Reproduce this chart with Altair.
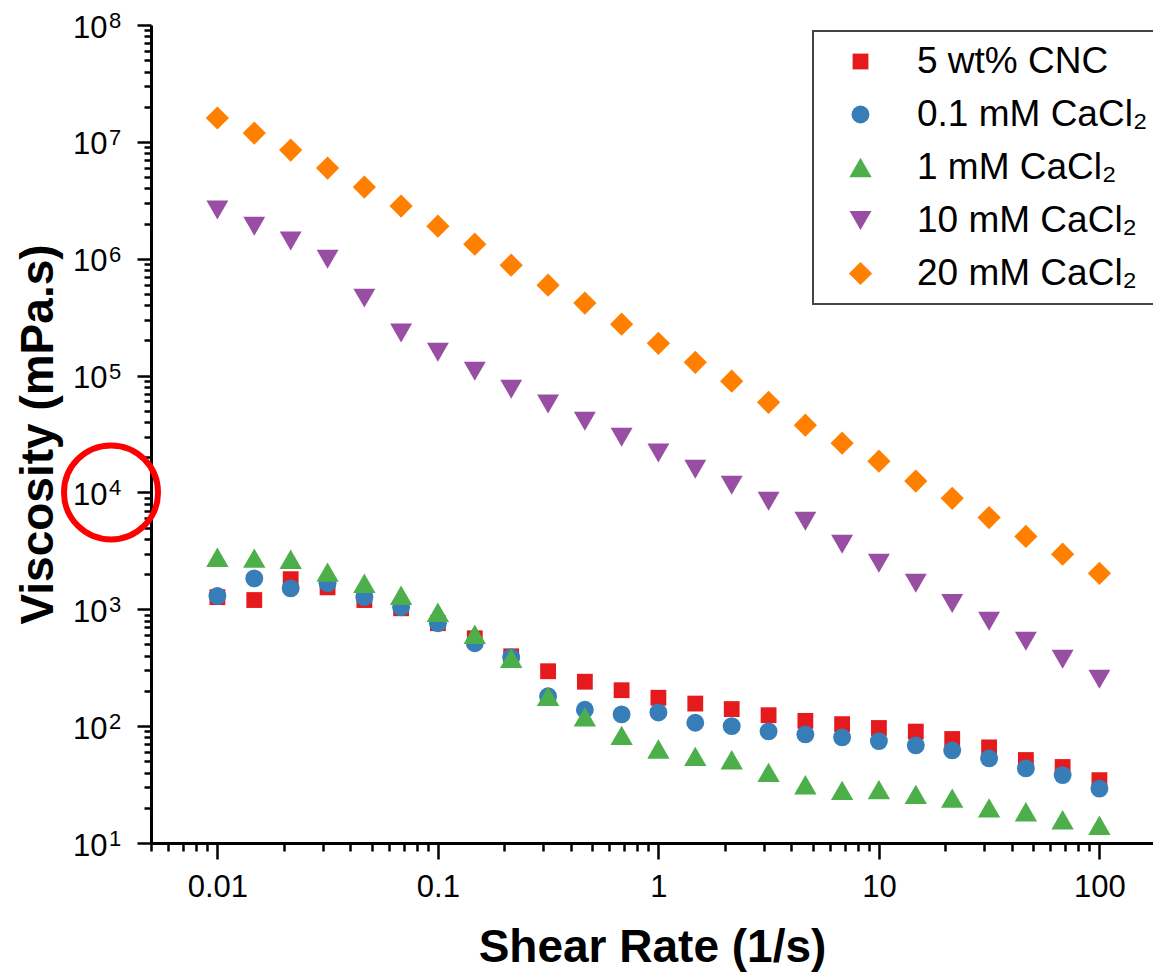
import altair as alt
import pandas as pd

# Shear rates of the flow sweep (5 points per decade)
shear_rate = [0.01, 0.0147, 0.0215, 0.0316, 0.0464, 0.0681, 0.1, 0.147, 0.215,
              0.316, 0.464, 0.681, 1, 1.47, 2.15, 3.16, 4.64, 6.81, 10, 14.7,
              21.5, 31.6, 46.4, 68.1, 100]

# Viscosity (mPa.s) per formulation
cnc_5wt = [1270, 1200, 1810, 1540, 1200, 1020, 760, 565, 396, 295, 240, 203,
           175, 156, 140, 124, 111, 104, 96.4, 89.8, 77.6, 65.8, 51.3, 44.7, 34.5]
cacl2_01mm = [1300, 1840, 1510, 1670, 1270, 1040, 760, 512, 388, 180, 138, 126,
              131, 107, 100, 90.3, 85.1, 80.2, 74.5, 68.5, 62.1, 53.0, 43.5, 38.1, 29.2]
cacl2_1mm = [2790, 2740, 2680, 2080, 1670, 1320, 943, 611, 381, 180, 120, 83.4,
             63.7, 55.1, 51.6, 40.2, 31.5, 28.2, 28.6, 26.1, 24.2, 20.0, 18.5, 15.8, 14.2]
cacl2_10mm = [2.61e6, 1.90e6, 1.42e6, 9.9e5, 4.6e5, 2.31e5, 1.58e5, 1.09e5, 7.65e4,
              5.7e4, 4.07e4, 2.97e4, 2.17e4, 1.58e4, 1.15e4, 8.4e3, 5.67e3, 3.6e3,
              2.48e3, 1.67e3, 1.12e3, 789, 532, 373, 252]
cacl2_20mm = [1.6e7, 1.19e7, 8.5e6, 5.97e6, 4.1e6, 2.82e6, 1.9e6, 1.33e6, 8.8e5,
              5.94e5, 4.17e5, 2.75e5, 1.89e5, 1.30e5, 8.96e4, 5.9e4, 3.76e4, 2.64e4,
              1.85e4, 1.25e4, 8.9e3, 6.1e3, 4.2e3, 2.96e3, 2.03e3]

series = ["5 wt% CNC", "0.1 mM CaCl₂", "1 mM CaCl₂", "10 mM CaCl₂", "20 mM CaCl₂"]
series_values = [cnc_5wt, cacl2_01mm, cacl2_1mm, cacl2_10mm, cacl2_20mm]
colors = ["#E41A1C", "#377EB8", "#4DAF4A", "#984EA3", "#FF7F00"]
shapes = ["square", "circle", "triangle-up", "triangle-down", "diamond"]
sizes = [250, 320, 500, 480, 540]

# Axis ticks: labelled decades plus unlabelled minor ticks
x_major = [0.01, 0.1, 1, 10, 100]
x_minor = [m * 10.0 ** k for k in range(-3, 2) for m in range(2, 10) if 0.005 <= m * 10.0 ** k <= 100]
y_major = [1e1, 1e2, 1e3, 1e4, 1e5, 1e6, 1e7, 1e8]
y_exponents = ["1", "2", "3", "4", "5", "6", "7", "8"]
y_minor = [m * 10.0 ** k for k in range(1, 8) for m in range(2, 10)]

highlight = [1e4]

rows = []
for name, vals in zip(series, series_values):
    for x, y in zip(shear_rate, vals):
        rows.append({"shear": x, "viscosity": y, "sample": name})
df = pd.DataFrame(rows)
df_mark = pd.DataFrame({"viscosity": highlight})
df_exp = pd.DataFrame({"viscosity": y_major, "exponent": y_exponents})

is_major = "abs(log(datum.value)/LN10 - round(log(datum.value)/LN10)) < 0.001"

x_scale = alt.Scale(type="log", domain=[0.005, 175], nice=False)
y_scale = alt.Scale(type="log", domain=[10, 1e8], nice=False)

legend = alt.Legend(
    title=None, orient="none", legendX=662, legendY=6,
    strokeColor="#444444", padding=12, rowPadding=15,
    labelFont="Liberation Sans", labelFontSize=37, labelColor="black",
    labelLimit=500, symbolOffset=17, labelOffset=38,
)

points = alt.Chart(df).mark_point(filled=True, opacity=1).encode(
    x=alt.X("shear:Q", scale=x_scale, axis=alt.Axis(
        title="Shear Rate (1/s)", values=x_major + x_minor,
        labelExpr=f"{is_major} ? format(datum.value, '~g') : ''",
        tickSize={"condition": {"test": is_major, "value": 16}, "value": 8},
        labelPadding=13, titlePadding=23, labelOverlap=False, labelFlush=False,
    )),
    y=alt.Y("viscosity:Q", scale=y_scale, axis=alt.Axis(
        title="Viscosity (mPa.s)", values=y_major + y_minor,
        labelExpr=f"{is_major} ? '10' : ''",
        tickSize={"condition": {"test": is_major, "value": 14}, "value": 7},
        labelPadding=30, labelOffset=3, titlePadding=10, labelOverlap=False, labelFlush=False,
    )),
    color=alt.Color("sample:N", scale=alt.Scale(domain=series, range=colors), legend=legend),
    shape=alt.Shape("sample:N", scale=alt.Scale(domain=series, range=shapes), legend=legend),
    size=alt.Size("sample:N", scale=alt.Scale(type="ordinal", domain=series, range=sizes), legend=legend),
)

# Superscript exponents of the decade labels
exponents = alt.Chart(df_exp).mark_text(
    align="left", baseline="alphabetic", font="Liberation Sans", fontSize=22,
    color="black", dy=3,
).encode(
    x=alt.value(-42),
    y=alt.Y("viscosity:Q", scale=y_scale),
    text="exponent:N",
)

ring = alt.Chart(df_mark).mark_point(
    shape="circle", filled=False, color="#FF0000", strokeWidth=6, size=8836, opacity=1
).encode(
    x=alt.value(-40),
    y=alt.Y("viscosity:Q", scale=y_scale),
)

chart = alt.layer(points, exponents, ring).properties(
    width=1002, height=818,
    autosize=alt.AutoSizeParams(type="none"),
    padding={"left": 151, "top": 25, "right": 0, "bottom": 135},
).configure_axis(
    grid=False, domainColor="black", domainWidth=3, tickColor="black", tickWidth=2.5,
    labelFont="Liberation Sans", labelFontSize=31, labelColor="black",
    titleFont="Liberation Sans", titleFontSize=46, titleFontWeight="bold", titleColor="black",
).configure_legend(
    strokeWidth=2,
).configure_view(stroke=None)

chart.save("out.html", embed_options={"renderer": "svg", "actions": False})
